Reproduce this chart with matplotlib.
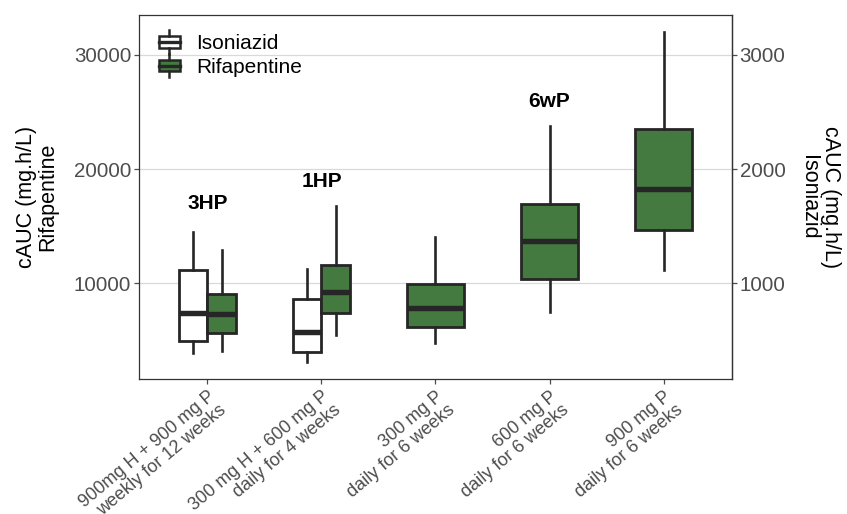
import matplotlib
matplotlib.use('Agg')
import matplotlib.pyplot as plt
import numpy as np
from matplotlib.legend_handler import HandlerBase
from matplotlib.patches import Rectangle, Patch
from matplotlib.lines import Line2D

plt.rcParams['font.family'] = ['Liberation Sans', 'DejaVu Sans']

# regimen labels on the x axis
regimens = ['900mg H + 900 mg P\nweekly for 12 weeks',
            '300 mg H + 600 mg P\ndaily for 4 weeks',
            '300 mg P\ndaily for 6 weeks',
            '600 mg P\ndaily for 6 weeks',
            '900 mg P\ndaily for 6 weeks']

# Isoniazid cAUC (right axis, mg.h/L), only the first two regimens
iso_groups = [0, 1]
iso_whislo = [392, 308]
iso_q1 = [498, 396]
iso_med = [738, 574]
iso_q3 = [1117, 865]
iso_whishi = [1447, 1123]

# Rifapentine cAUC (left axis, mg.h/L)
rif_groups = [0, 1, 2, 3, 4]
rif_whislo = [4073, 5474, 4800, 7515, 11168]
rif_q1 = [5676, 7375, 6201, 10406, 14671]
rif_med = [7287, 9267, 7839, 13734, 18289]
rif_q3 = [9039, 11579, 9915, 16949, 23491]
rif_whishi = [12920, 16774, 14085, 23781, 32040]

# regimen names written above the boxes
label_groups = [0, 1, 3]
label_names = ['3HP', '1HP', '6wP']
label_y = [16950, 18900, 25900]

ISO_SCALE = 10  # left axis = right axis * 10
GREEN = '#447a40'
EDGE = '#262626'
TICK_GREY = '#4d4d4d'


class BoxHandler(HandlerBase):
    def create_artists(self, legend, orig_handle, xdescent, ydescent,
                       width, height, fontsize, trans):
        cx = width / 2 - xdescent
        cy = height / 2 - ydescent
        bw = width * 0.85
        bh = height * 0.62
        rect = Rectangle((cx - bw / 2, cy - bh / 2), bw, bh,
                         facecolor=orig_handle.get_facecolor(), edgecolor=EDGE,
                         linewidth=1.8, transform=trans)
        med = Line2D([cx - bw / 2, cx + bw / 2], [cy, cy], color=EDGE, lw=2.4, transform=trans)
        top = Line2D([cx, cx], [cy + bh / 2, cy + height * 0.62], color=EDGE, lw=1.8, transform=trans)
        bot = Line2D([cx, cx], [cy - bh / 2, cy - height * 0.62], color=EDGE, lw=1.8, transform=trans)
        return [rect, med, top, bot]


def make_stats(lo, q1, med, q3, hi, scale=1):
    return [dict(whislo=a * scale, q1=b * scale, med=c * scale, q3=d * scale,
                 whishi=e * scale, fliers=[]) for a, b, c, d, e in zip(lo, q1, med, q3, hi)]


def run():
    fig = plt.figure(figsize=(8.47, 5.14), dpi=100)
    ax = fig.add_axes([0.1641, 0.2626, 0.7001, 0.7082])

    x = np.arange(len(regimens))
    dodge = 0.125

    iso_pos = [x[g] - dodge for g in iso_groups]
    rif_pos = [x[g] + dodge if g in iso_groups else x[g] for g in rif_groups]
    rif_w = [0.25 if g in iso_groups else 0.5 for g in rif_groups]

    common = dict(patch_artist=True, showcaps=False, showfliers=False,
                  whiskerprops=dict(color=EDGE, lw=1.9),
                  medianprops=dict(color=EDGE, lw=3.9, solid_capstyle='butt'),
                  manage_ticks=False, zorder=3)

    ax.bxp(make_stats(iso_whislo, iso_q1, iso_med, iso_q3, iso_whishi, ISO_SCALE),
           positions=iso_pos, widths=0.25,
           boxprops=dict(facecolor='white', edgecolor=EDGE, lw=2.0), **common)
    ax.bxp(make_stats(rif_whislo, rif_q1, rif_med, rif_q3, rif_whishi),
           positions=rif_pos, widths=rif_w,
           boxprops=dict(facecolor=GREEN, edgecolor=EDGE, lw=2.0), **common)

    for g, name, yv in zip(label_groups, label_names, label_y):
        ax.text(x[g], yv, name, ha='center', va='center', fontsize=15,
                fontweight='bold', color='black', zorder=4)

    # y range like ggplot: 5% expansion of the data range
    lo = min(min(iso_whislo) * ISO_SCALE, min(rif_whislo))
    hi = max(max(iso_whishi) * ISO_SCALE, max(rif_whishi))
    pad = (hi - lo) * 0.05
    ax.set_ylim(lo - pad, hi + pad)
    ax.set_xlim(-0.6, len(regimens) - 0.4)

    ax.set_yticks([10000, 20000, 30000])
    ax.set_xticks(x)
    ax.set_xticklabels(regimens, rotation=40, ha='right', va='top',
                       rotation_mode='anchor', multialignment='right',
                       fontsize=13, color=TICK_GREY, linespacing=1.05)
    ax.tick_params(axis='y', labelsize=14.8, labelcolor=TICK_GREY, color=TICK_GREY,
                   length=3.5, width=0.9, pad=2)
    ax.tick_params(axis='x', color=TICK_GREY, length=3.5, width=0.9, pad=3)

    ax.yaxis.grid(True, color='#d9d9d9', lw=0.9, zorder=0)
    ax.set_axisbelow(True)
    for s in ax.spines.values():
        s.set_color('#333333')
        s.set_linewidth(0.9)

    ax.set_ylabel('cAUC (mg.h/L)\nRifapentine', fontsize=15.5, labelpad=11,
                  linespacing=1.05)

    sec = ax.secondary_yaxis('right', functions=(lambda v: v / ISO_SCALE,
                                                  lambda v: v * ISO_SCALE))
    sec.set_yticks([1000, 2000, 3000])
    sec.tick_params(labelsize=14.8, labelcolor=TICK_GREY, color=TICK_GREY,
                    length=3.5, width=0.9, pad=2)
    sec.spines['right'].set_color('#333333')
    sec.spines['right'].set_linewidth(0.9)
    sec.set_ylabel('cAUC (mg.h/L)\nIsoniazid', fontsize=15.5, rotation=270,
                   va='bottom', labelpad=9, linespacing=1.05)

    handles = [Patch(facecolor='white'), Patch(facecolor=GREEN)]
    ax.legend(handles, ['Isoniazid', 'Rifapentine'], loc='upper left',
              bbox_to_anchor=(0.0, 1.0), frameon=False, fontsize=15,
              handler_map={Patch: BoxHandler()}, handlelength=1.2,
              handleheight=1.0, handletextpad=0.7, labelspacing=0.15,
              borderaxespad=0.45)

    fig.savefig('out.png', dpi=100)


if __name__ == '__main__':
    run()
